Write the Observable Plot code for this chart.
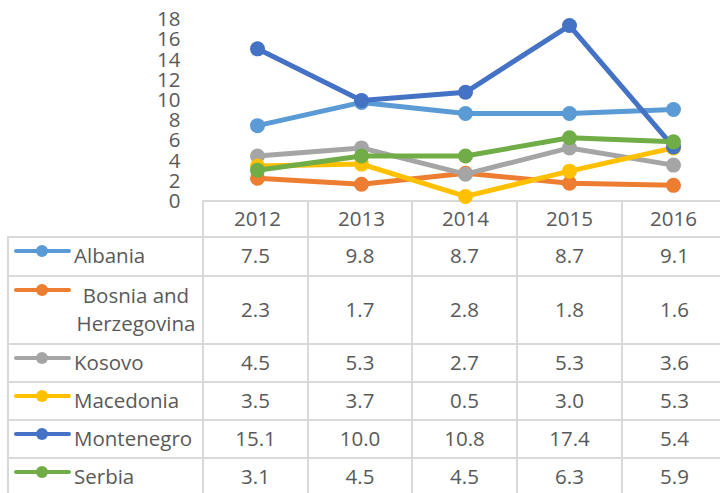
<!DOCTYPE html>
<html><head><meta charset="utf-8">
<script src="https://cdn.jsdelivr.net/npm/d3@7"></script>
<script src="https://cdn.jsdelivr.net/npm/@observablehq/plot@0.6"></script>
<style>
body{margin:0;background:#fff;}
#wrap{position:relative;width:720px;height:493px;overflow:hidden;font-family:"Open Sans",sans-serif;font-size:20.5px;color:#595959;background:#fff;}
#plot{position:absolute;left:0;top:0;z-index:2;}
.ln{position:absolute;background:#d9d9d9;z-index:1;}
.cell{position:absolute;display:flex;align-items:center;justify-content:center;z-index:1;}
.cell .t{position:relative;top:-1.5px;}
.leg{justify-content:flex-start;}
.sw{position:relative;width:57px;height:28px;flex:none;margin-right:3px;align-self:flex-start;}
.sw .bar{position:absolute;left:0;right:0;top:12px;height:4px;border-radius:2px;}
.sw .dt{position:absolute;left:21.5px;top:8px;width:12px;height:12px;border-radius:50%;}
.lab{max-width:124px;text-align:center;line-height:28px;position:relative;top:-1.5px;}
</style></head><body><div id="wrap"><div id="plot"></div></div>
<script>
const years = ["2012", "2013", "2014", "2015", "2016"];
const countries = ["Albania", "Bosnia and Herzegovina", "Kosovo", "Macedonia", "Montenegro", "Serbia"];
const albania = [7.5, 9.8, 8.7, 8.7, 9.1];
const bosnia = [2.3, 1.7, 2.8, 1.8, 1.6];
const kosovo = [4.5, 5.3, 2.7, 5.3, 3.6];
const macedonia = [3.5, 3.7, 0.5, 3.0, 5.3];
const montenegro = [15.1, 10.0, 10.8, 17.4, 5.4];
const serbia = [3.1, 4.5, 4.5, 6.3, 5.9];
const colors = ["#5B9BD5", "#ED7D31", "#A5A5A5", "#FFC000", "#4472C4", "#70AD47"];
const yTicks = [0, 2, 4, 6, 8, 10, 12, 14, 16, 18];

const series = [albania, bosnia, kosovo, macedonia, montenegro, serbia];
const rows = countries.flatMap((c, i) => years.map((y, j) => ({country: c, year: y, value: series[i][j]})));

const chart = Plot.plot({
  width: 720, height: 237,
  marginTop: 0, marginLeft: 203, marginRight: 0, marginBottom: 36,
  style: {fontFamily: "Open Sans", fontSize: "20.5px", color: "#595959", background: "transparent", overflow: "visible"},
  x: {type: "point", domain: years, range: [203, 727], padding: 0.5},
  y: {domain: [0, 18], range: [201, 19]},
  color: {domain: countries, range: colors},
  marks: [
    Plot.axisY({ticks: yTicks, tickSize: 0, tickPadding: 23, label: null}),
    Plot.axisX({anchor: "bottom", tickSize: 0, tickPadding: 10, label: null}),
    ...countries.flatMap(c => {
      const d = rows.filter(r => r.country === c);
      return [
        Plot.line(d, {x: "year", y: "value", stroke: "country", strokeWidth: 5, strokeLinejoin: "round", strokeLinecap: "round"}),
        Plot.dot(d, {x: "year", y: "value", fill: "country", r: 7.5})
      ];
    })
  ]
});
document.getElementById("plot").appendChild(chart);

// data table below the chart
const wrap = document.getElementById("wrap");
const colX = [8, 203, 308, 412, 517, 622, 727];
const rowY = [201, 237, 276, 344, 382, 420, 458, 496];
function div(cls, css) { const e = document.createElement("div"); e.className = cls; Object.assign(e.style, css); wrap.appendChild(e); return e; }
rowY.forEach((y, i) => {
  const x0 = i === 0 ? colX[1] : colX[0];
  div("ln", {left: (x0 - 1) + "px", top: (y - 1) + "px", width: (727 - x0 + 2) + "px", height: "2px"});
});
colX.forEach((x, i) => {
  const y0 = i === 0 ? rowY[1] : rowY[0];
  div("ln", {left: (x - 1) + "px", top: (y0 - 1) + "px", width: "2px", height: (496 - y0 + 2) + "px"});
});
countries.forEach((c, i) => {
  const top = rowY[i + 1], h = rowY[i + 2] - rowY[i + 1];
  const leg = div("cell leg", {left: (colX[0] + 6) + "px", top: top + "px", width: (colX[1] - colX[0] - 6) + "px", height: h + "px"});
  const sw = document.createElement("div"); sw.className = "sw";
  sw.innerHTML = `<div class="bar" style="background:${colors[i]}"></div><div class="dt" style="background:${colors[i]}"></div>`;
  leg.appendChild(sw);
  const lab = document.createElement("div"); lab.className = "lab"; lab.textContent = c;
  leg.appendChild(lab);
  years.forEach((y, j) => {
    const cell = div("cell", {left: colX[j + 1] + "px", top: top + "px", width: (colX[j + 2] - colX[j + 1]) + "px", height: h + "px"});
    const t = document.createElement("span"); t.className = "t"; t.textContent = series[i][j].toFixed(1);
    cell.appendChild(t);
  });
});
</script></body></html>
